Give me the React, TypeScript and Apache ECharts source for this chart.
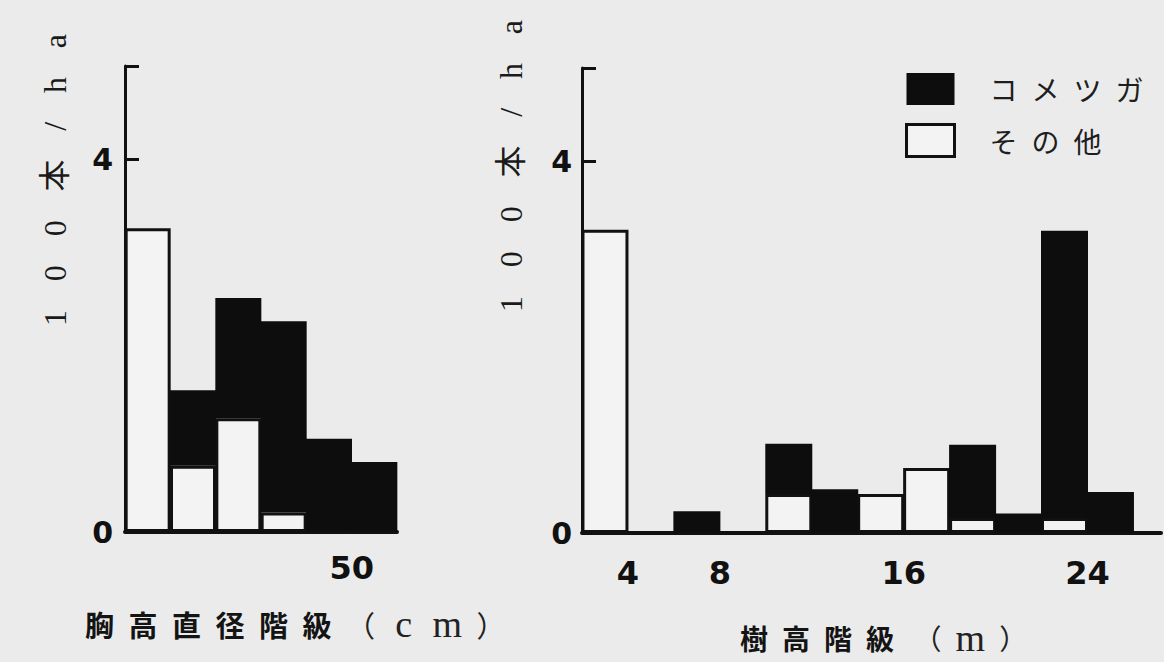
import React, { useEffect, useRef } from "react";
import * as echarts from "echarts";

// ---- data (values in 100 trees / ha) ----
const seriesNames = ["コメツガ", "その他"];

// 胸高直径階級 (cm): class lower bounds, 10 cm wide
const dbhClassStart = [0, 10, 20, 30, 40, 50];
const dbhClassWidth = 10;
const dbhOther = [3.26, 0.71, 1.22, 0.21, 0, 0];
const dbhTsuga = [0, 0.81, 1.29, 2.05, 1.0, 0.75];
const dbhTickLabels = [50];

// 樹高階級 (m): class lower bounds, 2 m wide
const heightClassStart = [2, 4, 6, 8, 10, 12, 14, 16, 18, 20, 22, 24];
const heightClassWidth = 2;
const heightOther = [3.26, 0, 0, 0, 0.42, 0, 0.42, 0.7, 0.16, 0, 0.16, 0];
const heightTsuga = [0, 0, 0.235, 0, 0.54, 0.47, 0, 0, 0.79, 0.21, 3.09, 0.44];
const heightTickLabels = [4, 8, 16, 24];

const yTickLabels = [0, 4];
const yAxisTitle = "100本/ha";
const dbhTitle = "胸高直径階級";
const dbhUnit = "cm";
const heightTitle = "樹高階級";
const heightUnit = "m";

const INK = "#111111";
const BLACK = "#0d0d0d";
const PAPER = "#ebebeb";
const WHITE = "#f3f3f3";
const EN = "\u2002";
const THIN = "\u2009";

function richTitle(main: string, unit: string, g1: string, g2: string, g3: string, g4: string) {
  const mainPart = `{a|${main.split("").join(EN)}}`;
  const unitPart = unit
    .split("")
    .map((c) => `{l|${c}}`)
    .join(`{p|${g3}}`);
  return `${mainPart}{p|${g1}（${g2}}${unitPart}{p|${g4}）}`;
}

function App() {
  const ref = useRef<HTMLDivElement>(null);
  useEffect(() => {
    if (!ref.current) return;
    const chart = echarts.init(ref.current, null, { renderer: "svg" });

    const xLabel = (allowed: number[]) => ({
      formatter: (v: number) => (allowed.includes(v) ? String(v) : ""),
      fontFamily: "DejaVu Sans",
      fontWeight: "bold" as const,
      fontSize: 32,
      color: INK,
    });
    const yAxisCommon = (gridIndex: number, margin: number) => ({
      type: "value" as const,
      gridIndex,
      min: 0,
      max: 5,
      interval: 1,
      axisLine: { show: true, lineStyle: { color: INK, width: 3 } },
      axisTick: { show: true, inside: true, length: 14, lineStyle: { color: INK, width: 3 } },
      splitLine: { show: false },
      axisLabel: {
        margin,
        formatter: (v: number) => (yTickLabels.includes(v) ? String(v) : ""),
        fontFamily: "DejaVu Sans",
        fontWeight: "bold" as const,
        fontSize: 30,
        color: INK,
      },
    });

    // data rows are [value, classMidpoint]; encode maps them so the value
    // dimension comes first and is the one ECharts stacks.
    const barSeries = (
      name: string,
      idx: number,
      stack: string,
      starts: number[],
      width: number,
      values: number[],
      barWidth: number,
      white: boolean
    ) => ({
      name,
      type: "bar" as const,
      xAxisIndex: idx,
      yAxisIndex: idx,
      stack,
      barWidth,
      encode: { x: 1, y: 0 },
      data: starts.map((s, i) => [values[i], s + width / 2]),
      itemStyle: white
        ? { color: WHITE, borderColor: INK, borderWidth: 3 }
        : { color: BLACK, borderWidth: 0 },
      emphasis: { disabled: true },
    });

    const yTitleText = yAxisTitle.split("").join(EN + THIN + THIN);
    const yTitleStyle = {
      text: yTitleText,
      fontSize: 32,
      fontFamily: "'Liberation Serif', 'Noto Sans CJK JP', serif",
      fill: "#1a1a1a",
      align: "center",
      verticalAlign: "middle",
    };
    const richStyles = (mainSize: number) => ({
      a: {
        fontSize: mainSize,
        fontWeight: "bold",
        fontFamily: "'Noto Sans CJK JP', sans-serif",
        fill: "#141414",
      },
      p: {
        fontSize: mainSize,
        fontFamily: "'Noto Sans CJK JP', sans-serif",
        fill: "#222222",
      },
      l: {
        fontSize: 38,
        fontFamily: "'Liberation Serif', serif",
        fill: "#222222",
      },
    });

    const option: any = {
      animation: false,
      backgroundColor: PAPER,
      legend: {
        orient: "vertical",
        left: 905,
        top: 73,
        padding: 0,
        itemWidth: 48,
        itemHeight: 32,
        itemGap: 18,
        icon: "rect",
        selectedMode: false,
        data: [
          { name: seriesNames[0], itemStyle: { color: BLACK, borderWidth: 0 } },
          { name: seriesNames[1], itemStyle: { color: WHITE, borderColor: INK, borderWidth: 3 } },
        ],
        formatter: (n: string) => n.split("").join(EN),
        textStyle: {
          fontFamily: "'Noto Sans CJK JP', sans-serif",
          fontSize: 28,
          lineHeight: 32,
          color: "#1e1e1e",
          padding: [0, 0, 0, 30],
        },
      },
      grid: [
        { left: 125, top: 66, width: 272, height: 466 },
        { left: 582, top: 68, width: 586, height: 465 },
      ],
      xAxis: [
        {
          type: "value",
          gridIndex: 0,
          min: 0,
          max: 60,
          interval: 10,
          axisLine: { show: true, onZero: false, lineStyle: { color: INK, width: 4 } },
          axisTick: { show: false },
          splitLine: { show: false },
          axisLabel: { margin: 20, ...xLabel(dbhTickLabels) },
        },
        {
          type: "value",
          gridIndex: 1,
          min: 2,
          max: 27.2,
          interval: 2,
          axisLine: { show: true, onZero: false, lineStyle: { color: INK, width: 4 } },
          axisTick: { show: false },
          splitLine: { show: false },
          axisLabel: { margin: 24, ...xLabel(heightTickLabels) },
        },
      ],
      yAxis: [yAxisCommon(0, 12), yAxisCommon(1, 10)],
      series: [
        barSeries(seriesNames[1], 0, "dbh", dbhClassStart, dbhClassWidth, dbhOther, 46, true),
        barSeries(seriesNames[0], 0, "dbh", dbhClassStart, dbhClassWidth, dbhTsuga, 46, false),
        barSeries(seriesNames[1], 1, "ht", heightClassStart, heightClassWidth, heightOther, 47, true),
        barSeries(seriesNames[0], 1, "ht", heightClassStart, heightClassWidth, heightTsuga, 47, false),
      ],
      graphic: [
        { type: "text", x: 55, y: 180, rotation: Math.PI / 2, style: { ...yTitleStyle } },
        { type: "text", x: 511, y: 166, rotation: Math.PI / 2, style: { ...yTitleStyle } },
        {
          type: "text",
          x: 85,
          y: 624,
          style: {
            text: richTitle(dbhTitle, dbhUnit, EN, EN + THIN, EN + THIN, EN),
            align: "left",
            verticalAlign: "middle",
            rich: richStyles(29),
          },
        },
        {
          type: "text",
          x: 740,
          y: 638,
          style: {
            text: richTitle(heightTitle, heightUnit, EN + THIN, EN, EN, EN),
            align: "left",
            verticalAlign: "middle",
            rich: richStyles(28),
          },
        },
      ],
    };

    chart.setOption(option);
    return () => chart.dispose();
  }, []);

  return (
    <div
      ref={ref}
      style={{ position: "fixed", left: 0, top: 0, width: 1164, height: 662 }}
    />
  );
}

export default App;
